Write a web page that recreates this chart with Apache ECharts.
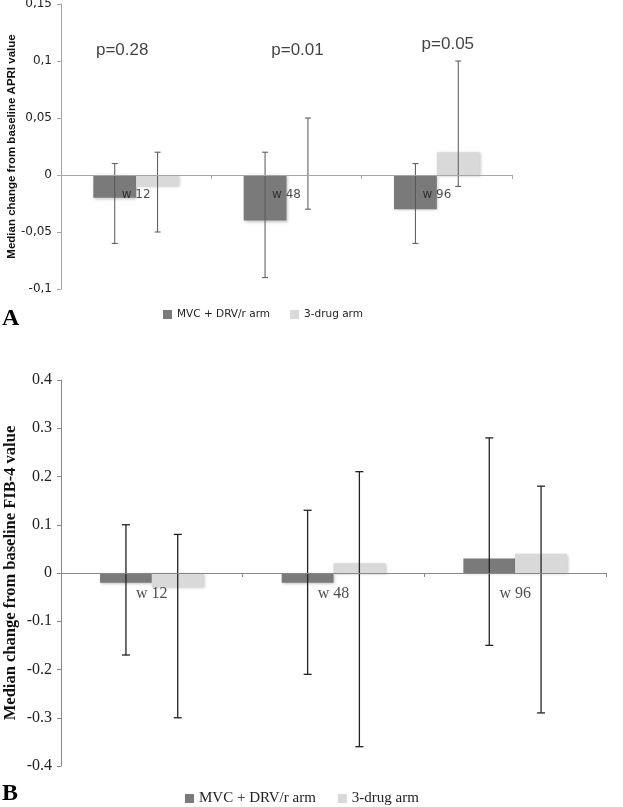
<!DOCTYPE html>
<html>
<head>
<meta charset="utf-8">
<script src="https://cdn.jsdelivr.net/npm/echarts@6/dist/echarts.min.js"></script>
<style>
html,body{margin:0;padding:0;background:#fff;}
#main{width:623px;height:807px;}
</style>
</head>
<body>
<div id="main"></div>
<script>
// ---- data ----
const categories = ['w 12', 'w 48', 'w 96'];
const seriesNames = ['MVC + DRV/r arm', '3-drug arm'];

// Panel A: APRI
const apriMvc = [-0.02, -0.04, -0.03];
const apriMvcHigh = [0.01, 0.02, 0.01];
const apriMvcLow = [-0.06, -0.09, -0.06];
const apri3 = [-0.01, 0, 0.02];
const apri3High = [0.02, 0.05, 0.10];
const apri3Low = [-0.05, -0.03, -0.01];
const pValues = ['p=0.28', 'p=0.01', 'p=0.05'];

// Panel B: FIB-4
const fibMvc = [-0.02, -0.02, 0.03];
const fibMvcHigh = [0.10, 0.13, 0.28];
const fibMvcLow = [-0.17, -0.21, -0.15];
const fib3 = [-0.03, 0.02, 0.04];
const fib3High = [0.08, 0.21, 0.18];
const fib3Low = [-0.30, -0.36, -0.29];

// ---- styling / layout ----
const DARK = '#7a7a7a';
const LIGHT = '#d9d9d9';
const GAP = 0.43;
const pLabelLayout = [{y: 0.109, dx: -14}, {y: 0.109, dx: 11}, {y: 0.115, dx: 11}];

function errData(high, low) {
  return categories.map((c, i) => [i, high[i], low[i]]);
}
function errSeries(name, data, sign, axis, color, lw, cap) {
  return {
    type: 'custom', name: name + ' err', xAxisIndex: axis, yAxisIndex: axis, z: 4,
    silent: true,
    data: data,
    encode: {x: 0, y: [1, 2]},
    renderItem: function (params, api) {
      const ci = api.value(0);
      const band = api.size([1, 0])[0];
      const barW = band * (1 - GAP) / 2;
      const x = api.coord([ci, 0])[0] + sign * barW / 2;
      const yh = api.coord([ci, api.value(1)])[1];
      const yl = api.coord([ci, api.value(2)])[1];
      const st = {stroke: color, lineWidth: lw};
      return {
        type: 'group',
        children: [
          {type: 'line', shape: {x1: x, y1: yh, x2: x, y2: yl}, style: st},
          {type: 'line', shape: {x1: x - cap, y1: yh, x2: x + cap, y2: yh}, style: st},
          {type: 'line', shape: {x1: x - cap, y1: yl, x2: x + cap, y2: yl}, style: st}
        ]
      };
    }
  };
}
function barSeries(name, data, axis, color) {
  return {
    type: 'bar', name: name, xAxisIndex: axis, yAxisIndex: axis, data: data,
    barGap: '0%', barCategoryGap: (GAP * 100) + '%', z: 2,
    itemStyle: {color: color, shadowColor: 'rgba(0,0,0,0.25)', shadowBlur: 3, shadowOffsetX: 1, shadowOffsetY: 1}
  };
}
function catLabelSeries(axis, font, size, dist) {
  return {
    type: 'scatter', xAxisIndex: axis, yAxisIndex: axis, symbolSize: 0, silent: true, z: 6,
    data: categories.map((c, i) => [i, 0]),
    label: {show: true, position: 'bottom', distance: dist, formatter: p => categories[p.dataIndex],
      fontFamily: font, fontSize: size, color: '#222'}
  };
}

const chart = echarts.init(document.getElementById('main'), null, {renderer: 'canvas'});
const axisGray = '#a6a6a6';
const sansA = 'DejaVu Sans';
const serifB = 'Liberation Serif';

chart.setOption({
  backgroundColor: '#fff',
  animation: false,
  grid: [
    {left: 61, right: 111, top: 4, bottom: 518, containLabel: false, outerBoundsMode: 'none'},
    {left: 61, right: 17, top: 380, bottom: 41, containLabel: false, outerBoundsMode: 'none'}
  ],
  xAxis: [
    {
      type: 'category', gridIndex: 0, data: categories, z: 5,
      axisLine: {onZero: true, lineStyle: {color: axisGray, width: 1}},
      axisTick: {show: true, length: 4, lineStyle: {color: axisGray}},
      axisLabel: {show: false}
    },
    {
      type: 'category', gridIndex: 1, data: categories, z: 5,
      axisLine: {onZero: true, lineStyle: {color: '#888', width: 1}},
      axisTick: {show: true, length: 4, lineStyle: {color: '#888'}},
      axisLabel: {show: false}
    }
  ],
  yAxis: [
    {
      type: 'value', gridIndex: 0, min: -0.1, max: 0.15, interval: 0.05,
      name: 'Median change from baseline APRI value', nameLocation: 'middle', nameGap: 43,
      nameMoveOverlap: false,
      nameTextStyle: {fontFamily: 'Liberation Sans', fontWeight: 'bold', fontSize: 11.5, color: '#111'},
      axisLine: {show: true, lineStyle: {color: axisGray}},
      axisTick: {show: true, length: 4, lineStyle: {color: axisGray}},
      splitLine: {show: false},
      axisLabel: {color: '#222', fontFamily: sansA, fontSize: 12, margin: 9,
        formatter: v => String(+v.toFixed(2)).replace('.', ',')}
    },
    {
      type: 'value', gridIndex: 1, min: -0.4, max: 0.4, interval: 0.1,
      name: 'Median change from baseline FIB-4 value', nameLocation: 'middle', nameGap: 42,
      nameMoveOverlap: false,
      nameTextStyle: {fontFamily: serifB, fontWeight: 'bold', fontSize: 16.5, color: '#111'},
      axisLine: {show: true, lineStyle: {color: '#888'}},
      axisTick: {show: true, length: 4, lineStyle: {color: '#888'}},
      splitLine: {show: false},
      axisLabel: {color: '#222', fontFamily: serifB, fontSize: 16, margin: 9,
        formatter: v => String(+v.toFixed(1))}
    }
  ],
  legend: [
    {
      data: seriesNames, left: 163, top: 309, padding: 0, icon: 'rect', itemWidth: 9, itemHeight: 9, itemGap: 20,
      textStyle: {fontFamily: sansA, fontSize: 10.5, color: '#222'}, selectedMode: false
    },
    {
      data: seriesNames, left: 185, top: 791, padding: 0, icon: 'rect', itemWidth: 9, itemHeight: 9, itemGap: 22,
      textStyle: {fontFamily: serifB, fontSize: 15, color: '#222'}, selectedMode: false
    }
  ],
  graphic: [
    {type: 'text', left: 2, top: 307, style: {text: 'A', font: 'bold 24px "Liberation Serif"', fill: '#000'}},
    {type: 'text', left: 2, top: 782, style: {text: 'B', font: 'bold 24px "Liberation Serif"', fill: '#000'}}
  ],
  series: [
    barSeries(seriesNames[0], apriMvc, 0, DARK),
    barSeries(seriesNames[1], apri3, 0, LIGHT),
    errSeries('apriMvc', errData(apriMvcHigh, apriMvcLow), -1, 0, '#555', 1, 3),
    errSeries('apri3', errData(apri3High, apri3Low), 1, 0, '#555', 1, 3),
    catLabelSeries(0, sansA, 12, 14),
    {
      type: 'scatter', xAxisIndex: 0, yAxisIndex: 0, symbolSize: 0, silent: true, z: 6,
      data: pValues.map((p, i) => ({
        value: [i, pLabelLayout[i].y],
        label: {show: true, formatter: p, position: 'inside', offset: [pLabelLayout[i].dx, 0],
          fontFamily: 'Liberation Sans', fontSize: 17, color: '#111'}
      }))
    },
    barSeries(seriesNames[0], fibMvc, 1, DARK),
    barSeries(seriesNames[1], fib3, 1, LIGHT),
    errSeries('fibMvc', errData(fibMvcHigh, fibMvcLow), -1, 1, '#222', 1.3, 4),
    errSeries('fib3', errData(fib3High, fib3Low), 1, 1, '#222', 1.3, 4),
    catLabelSeries(1, serifB, 16, 13)
  ]
});
</script>
</body>
</html>
